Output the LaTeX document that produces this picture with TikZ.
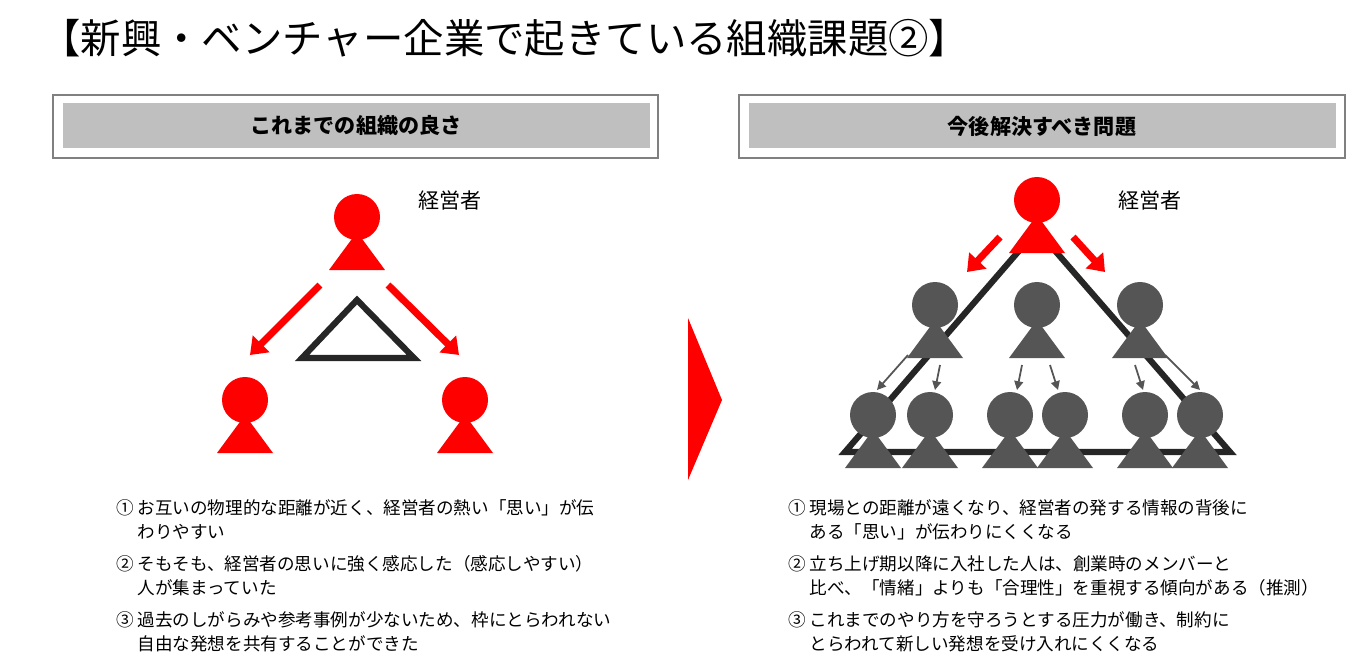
\documentclass[tikz,border=0pt]{standalone}
\usepackage{fontspec}
\setmainfont{Noto Sans CJK JP}
\usetikzlibrary{arrows.meta}
\definecolor{darkg}{RGB}{85,85,85}
\definecolor{boxg}{RGB}{191,191,191}
\tikzset{
  person/.pic={
    \fill[#1] (0,0) circle (23);
    \fill[#1] (0,15) -- (-28,53) -- (28,53) -- cycle;
  },
  redarrow/.style={red,line width=4pt,-{Triangle[length=9pt,width=13pt]}},
  grayarrow/.style={darkg,line width=1pt,-{Triangle[length=5pt,width=5pt]}},
  txt/.style={anchor=north west,align=left,font=\fontsize{10}{14}\selectfont},
}
\begin{document}
\begin{tikzpicture}[x=0.02cm,y=-0.02cm]
    \useasboundingbox (0,0) rectangle (1369,656);
    % title
    \node[anchor=west,inner sep=0pt,font=\fontsize{23}{26}\selectfont] (title) at (40,38) {【新興・ベンチャー企業で起きている組織課題②】};
    % headers
    \draw[gray,line width=1pt] (53,95) rectangle (658,158);
    \fill[boxg] (63,103) rectangle (650,148);
    \node[font=\bfseries\fontsize{12}{14}\selectfont] (hl) at (356,126) {これまでの組織の良さ};
    \draw[gray,line width=1pt] (739,95) rectangle (1345,158);
    \fill[boxg] (749,103) rectangle (1336,148);
    \node[font=\bfseries\fontsize{12}{14}\selectfont] (hr) at (1042,126) {今後解決すべき問題};
    % left side
    \pic at (357,217) {person=red};
    \pic at (245,400) {person=red};
    \pic at (465,400) {person=red};
    \node[font=\fontsize{12}{14}\selectfont] (ml) at (450,200) {経営者};
    \draw[black!85,line width=3.5pt,line join=miter] (357,300) -- (302,358) -- (414,358) -- cycle;
    \draw[redarrow] (320,285) -- (250,355);
    \draw[redarrow] (388,285) -- (459,355);
    % chevron
    \fill[red] (688,318) -- (722,400) -- (688,480) -- cycle;
    % right side
    \draw[black!85,line width=3.5pt,line join=miter] (1037,230) -- (1230,452) -- (845,452) -- cycle;
    \pic at (1037,200) {person=red};
    \node[font=\fontsize{12}{14}\selectfont] (mr) at (1150,200) {経営者};
    \foreach \x in {935,1037,1140} { \pic at (\x,305) {person=darkg}; }
    \foreach \x in {873,930,1010,1065,1145,1200} { \pic at (\x,415) {person=darkg}; }
    \draw[redarrow] (1000,237) -- (967,272);
    \draw[redarrow] (1073,237) -- (1105,272);
    \draw[grayarrow] (908,355) -- (877,390);
    \draw[grayarrow] (940,365) -- (935,390);
    \draw[grayarrow] (1022,365) -- (1017,390);
    \draw[grayarrow] (1050,365) -- (1058,390);
    \draw[grayarrow] (1135,365) -- (1143,390);
    \draw[grayarrow] (1165,355) -- (1200,390);
    % texts
    \node[txt] (t1) at (110,493) {① お互いの物理的な距離が近く、経営者の熱い「思い」が伝\\\phantom{①} わりやすい};
    \node[txt] (t2) at (110,549) {② そもそも、経営者の思いに強く感応した（感応しやすい）\\\phantom{①} 人が集まっていた};
    \node[txt] (t3) at (110,605) {③ 過去のしがらみや参考事例が少ないため、枠にとらわれない\\\phantom{①} 自由な発想を共有することができた};
    \node[txt] (t4) at (782,493) {① 現場との距離が遠くなり、経営者の発する情報の背後に\\\phantom{①} ある「思い」が伝わりにくくなる};
    \node[txt] (t5) at (782,549) {② 立ち上げ期以降に入社した人は、創業時のメンバーと\\\phantom{①} 比べ、「情緒」よりも「合理性」を重視する傾向がある（推測）};
    \node[txt] (t6) at (782,605) {③ これまでのやり方を守ろうとする圧力が働き、制約に\\\phantom{①} とらわれて新しい発想を受け入れにくくなる};
\end{tikzpicture}
\end{document}
